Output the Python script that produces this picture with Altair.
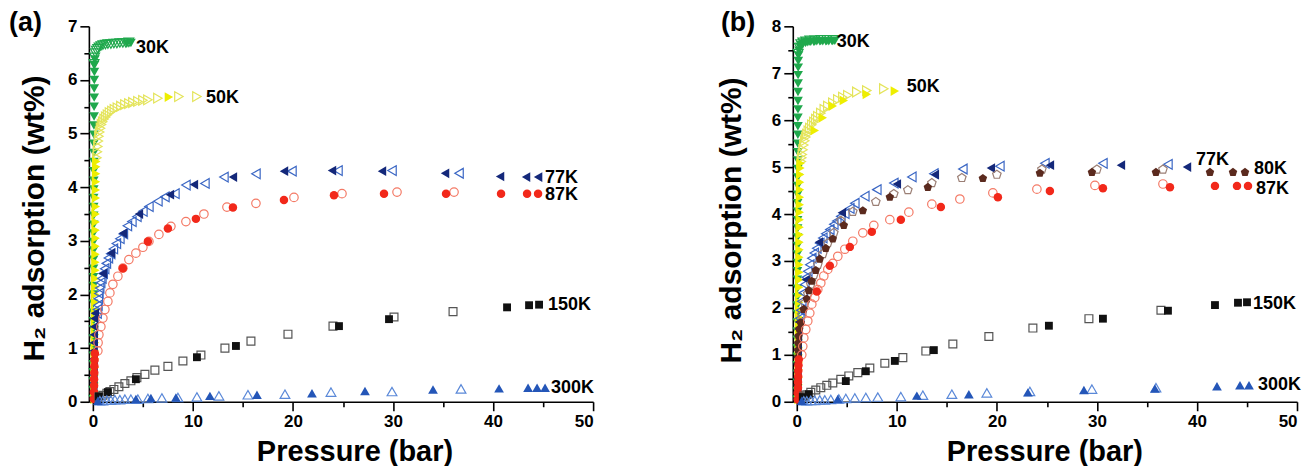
import altair as alt
import pandas as pd

FONT = "Liberation Sans"

# ---------------- panel (a) ----------------
a30_fill_p = [0.02, 0.02, 0.03, 0.03, 0.03, 0.04, 0.04, 0.04, 0.05, 0.05, 0.05, 0.05, 0.06, 0.06, 0.06, 0.06,
              0.07, 0.07, 0.07, 0.07, 0.08, 0.08, 0.08, 0.08, 0.09, 0.09, 0.09, 0.1, 0.1, 0.1, 0.11, 0.11,
              0.12, 0.12, 0.13, 0.13, 0.14, 0.15, 0.17, 0.2, 3.4, 3.8]
a30_fill_w = [0.05, 0.22, 0.38, 0.55, 0.7, 0.86, 1.02, 1.18, 1.35, 1.5, 1.66, 1.83, 2.0, 2.16, 2.32, 2.48,
              2.65, 2.82, 2.98, 3.14, 3.3, 3.47, 3.63, 3.8, 3.96, 4.12, 4.3, 4.47, 4.64, 4.81, 4.98, 5.15,
              5.32, 5.5, 5.67, 5.84, 6.0, 6.15, 6.28, 6.38, 6.68, 6.69]
a30_open_p = [0.12, 0.18, 0.25, 0.35, 0.48, 0.62, 0.8, 1.0, 1.25, 1.5, 1.8, 2.1, 2.4, 2.7, 3.0, 3.3, 3.6]
a30_open_w = [6.3, 6.42, 6.5, 6.55, 6.58, 6.61, 6.63, 6.65, 6.66, 6.67, 6.67, 6.68, 6.68, 6.69, 6.69, 6.69, 6.7]

a50_fill_p = [0.18, 0.18, 0.19, 0.19, 0.2, 0.2, 0.2, 0.21, 0.21, 0.22, 0.22, 0.22, 0.23, 0.23, 0.24, 0.24,
              0.25, 0.25, 0.26, 0.26, 0.27, 0.27, 0.28, 0.28, 0.29, 0.3, 0.3, 0.31, 0.32, 0.33, 0.35, 7.6]
a50_fill_w = [0.05, 0.2, 0.35, 0.5, 0.64, 0.8, 0.95, 1.1, 1.25, 1.4, 1.55, 1.7, 1.85, 2.0, 2.14, 2.3,
              2.45, 2.6, 2.75, 2.9, 3.05, 3.2, 3.35, 3.5, 3.64, 3.8, 3.95, 4.1, 4.25, 4.38, 4.48, 5.68]
a50_open_p = [0.4, 0.45, 0.5, 0.55, 0.6, 0.68, 0.76, 0.86, 0.98, 1.12, 1.28, 1.46, 1.66, 1.9, 2.15, 2.45,
              2.8, 3.2, 3.6, 4.0, 4.5, 5.0, 5.5, 6.5, 8.6, 10.4]
a50_open_w = [4.55, 4.66, 4.76, 4.86, 4.95, 5.03, 5.1, 5.17, 5.22, 5.27, 5.31, 5.35, 5.39, 5.42, 5.45, 5.48,
              5.51, 5.54, 5.56, 5.58, 5.6, 5.62, 5.63, 5.66, 5.69, 5.69]

a77_fill_p = [0.05, 0.05, 0.06, 0.06, 0.07, 0.07, 0.08, 0.09, 0.1, 0.12, 0.15, 0.2,
              1.0, 1.8, 3.0, 4.6, 7.7, 10.1, 14.0, 19.1, 23.9, 28.9, 35.2, 40.7, 43.3, 44.5]
a77_fill_w = [0.05, 0.2, 0.35, 0.5, 0.65, 0.8, 0.95, 1.1, 1.25, 1.4, 1.55, 1.65,
              2.39, 2.77, 3.14, 3.5, 3.86, 4.05, 4.19, 4.3, 4.31, 4.3, 4.26, 4.2, 4.19, 4.19]
a77_open_p = [0.42, 0.46, 0.5, 0.55, 0.6, 0.68, 0.78, 0.9, 1.03, 1.18, 1.35, 1.55, 1.78, 2.05, 2.35, 2.7,
              3.05, 3.45, 3.9, 4.4, 5.0, 5.6, 6.5, 7.2, 8.2, 9.3, 11.2, 13.1, 16.3, 19.9, 24.5, 29.9, 36.6]
a77_open_w = [1.65, 1.72, 1.8, 1.92, 2.02, 2.12, 2.22, 2.3, 2.39, 2.48, 2.58, 2.68, 2.76, 2.85, 2.95, 3.04,
              3.13, 3.28, 3.36, 3.45, 3.55, 3.64, 3.74, 3.82, 3.88, 4.04, 4.07, 4.19, 4.25, 4.3, 4.31, 4.31, 4.26]

a87_fill_p = [0.1, 0.1, 0.12, 0.12, 0.14, 0.15, 0.17, 0.2,
              3.0, 5.5, 7.5, 10.3, 14.0, 19.1, 24.1, 29.1, 35.3, 40.8, 43.4, 44.5]
a87_fill_w = [0.05, 0.18, 0.3, 0.42, 0.54, 0.66, 0.78, 0.9,
              2.49, 2.99, 3.23, 3.41, 3.62, 3.76, 3.85, 3.88, 3.88, 3.88, 3.88, 3.88]
a87_open_p = [0.5, 0.52, 0.6, 0.8, 1.0, 1.2, 1.5, 1.7, 2.0, 2.5, 3.0, 3.6, 4.3, 5.0, 5.6, 6.6,
              7.8, 9.3, 11.1, 13.4, 16.3, 20.1, 24.9, 30.4, 36.1]
a87_open_w = [0.95, 1.1, 1.25, 1.4, 1.56, 1.72, 1.87, 2.03, 2.19, 2.34, 2.49, 2.65, 2.77, 2.88, 2.99, 3.12,
              3.27, 3.36, 3.5, 3.63, 3.7, 3.81, 3.88, 3.91, 3.91]

a150_fill_p = [0.6, 1.5, 4.3, 10.4, 14.3, 24.6, 29.6, 41.4, 43.6, 44.6]
a150_fill_w = [0.1, 0.18, 0.42, 0.83, 1.04, 1.41, 1.54, 1.76, 1.8, 1.81]
a150_open_p = [0.6, 1.0, 1.4, 1.7, 2.1, 2.6, 3.2, 3.8, 4.4, 5.2, 6.2, 7.5, 9.0, 10.8, 13.2, 15.8, 19.5, 24.0, 30.1, 36.0]
a150_open_w = [0.09, 0.12, 0.16, 0.19, 0.23, 0.28, 0.34, 0.39, 0.45, 0.51, 0.59, 0.66, 0.76, 0.87, 1.0, 1.13,
               1.26, 1.41, 1.58, 1.68]

a300_fill_p = [0.5, 4.3, 5.8, 8.3, 11.7, 16.4, 21.9, 27.2, 34.0, 40.6, 43.5, 44.4, 45.2]
a300_fill_w = [0.02, 0.05, 0.07, 0.08, 0.11, 0.13, 0.16, 0.2, 0.23, 0.25, 0.26, 0.26, 0.26]
a300_open_p = [0.7, 1.0, 1.4, 1.8, 2.2, 2.7, 3.2, 3.8, 4.5, 5.5, 6.9, 8.5, 10.4, 12.6, 15.5, 19.2, 23.8, 29.9, 36.8]
a300_open_w = [0.02, 0.02, 0.03, 0.03, 0.04, 0.04, 0.05, 0.05, 0.05, 0.06, 0.07, 0.08, 0.09, 0.11, 0.13, 0.14,
               0.18, 0.19, 0.24]

lab_a_text = ["30K", "50K", "77K", "87K", "150K", "300K"]
lab_a_p = [4.3, 11.3, 45.2, 45.2, 45.5, 45.8]
lab_a_w = [6.6, 5.66, 4.18, 3.85, 1.8, 0.26]

# ---------------- panel (b) ----------------
b30_fill_p = [0.02, 0.02, 0.03, 0.03, 0.03, 0.04, 0.04, 0.04, 0.05, 0.05, 0.05, 0.05, 0.06, 0.06, 0.06, 0.06,
              0.07, 0.07, 0.07, 0.07, 0.08, 0.08, 0.08, 0.08, 0.09, 0.09, 0.09, 0.1, 0.1, 0.1, 0.1, 0.11,
              0.11, 0.11, 0.12, 0.12, 0.12, 0.13, 0.13, 0.14, 0.15, 0.17,
              0.22, 0.32, 0.45, 0.62, 0.85, 1.1, 1.4, 1.7, 2.0, 2.3, 2.6, 2.9, 3.2, 3.5, 3.8]
b30_fill_w = [0.05, 0.23, 0.41, 0.6, 0.78, 0.96, 1.14, 1.32, 1.5, 1.69, 1.87, 2.05, 2.23, 2.41, 2.6, 2.78,
              2.96, 3.14, 3.32, 3.5, 3.69, 3.87, 4.05, 4.23, 4.41, 4.6, 4.78, 4.96, 5.14, 5.32, 5.5, 5.69,
              5.87, 6.05, 6.23, 6.41, 6.6, 6.78, 6.96, 7.12, 7.26, 7.38,
              7.48, 7.56, 7.6, 7.63, 7.65, 7.66, 7.67, 7.67, 7.68, 7.68, 7.68, 7.68, 7.68, 7.69, 7.69]
b30_open_p = [0.15, 0.25, 0.4, 0.6, 0.9, 1.3, 1.8, 2.4, 3.0, 3.6]
b30_open_w = [7.42, 7.55, 7.62, 7.66, 7.68, 7.7, 7.7, 7.71, 7.71, 7.71]

b50_fill_p = [0.18, 0.18, 0.19, 0.19, 0.2, 0.2, 0.2, 0.21, 0.21, 0.22, 0.22, 0.22, 0.23, 0.23, 0.24, 0.24,
              0.25, 0.25, 0.26, 0.26, 0.27, 0.27, 0.28, 0.28, 0.29, 0.3, 0.3, 0.31, 0.32, 0.33, 0.34, 0.36, 0.38,
              1.8, 2.6, 3.6, 4.7, 7.0, 9.8]
b50_fill_w = [0.05, 0.2, 0.36, 0.52, 0.68, 0.84, 1.0, 1.16, 1.32, 1.48, 1.64, 1.8, 1.96, 2.12, 2.28, 2.44,
              2.6, 2.76, 2.92, 3.08, 3.24, 3.4, 3.56, 3.72, 3.88, 4.04, 4.2, 4.36, 4.52, 4.68, 4.84, 4.98, 5.08,
              5.78, 6.05, 6.3, 6.42, 6.55, 6.62]
b50_open_p = [0.45, 0.5, 0.55, 0.62, 0.7, 0.8, 0.9, 1.0, 1.15, 1.3, 1.5, 1.7, 1.9, 2.1, 2.4, 2.75,
              3.1, 3.6, 4.1, 4.6, 5.1, 6.0, 7.0, 8.7]
b50_open_w = [5.12, 5.2, 5.27, 5.37, 5.47, 5.56, 5.64, 5.7, 5.77, 5.83, 5.9, 5.96, 6.02, 6.08, 6.15, 6.23,
              6.3, 6.37, 6.44, 6.49, 6.53, 6.6, 6.63, 6.67]

b77_fill_p = [0.05, 0.05, 0.06, 0.06, 0.07, 0.07, 0.08, 0.09, 0.1, 0.12, 0.15, 0.2,
              0.9, 2.2, 4.5, 10.0, 13.8, 19.4, 25.3, 32.4, 39.0]
b77_fill_w = [0.05, 0.2, 0.35, 0.5, 0.65, 0.8, 0.95, 1.1, 1.25, 1.4, 1.55, 1.7,
              2.6, 3.4, 4.03, 4.64, 4.84, 4.98, 5.04, 5.04, 5.0]
b77_open_p = [0.3, 0.4, 0.5, 0.65, 0.8, 0.95, 1.1, 1.3, 1.5, 1.75, 2.0, 2.3, 2.6, 2.9, 3.3, 3.7,
              4.0, 4.4, 4.8, 5.3, 5.8, 6.8, 8.0, 9.7, 11.5, 13.7, 16.6, 20.3, 24.8, 30.6, 37.1]
b77_open_w = [1.78, 1.95, 2.14, 2.32, 2.5, 2.65, 2.78, 2.92, 3.06, 3.17, 3.27, 3.38, 3.49, 3.58, 3.67, 3.78,
              3.85, 3.95, 4.01, 4.12, 4.23, 4.38, 4.52, 4.66, 4.79, 4.86, 4.96, 5.02, 5.08, 5.08, 5.06]

b80_fill_p = [0.08, 0.08, 0.09, 0.1, 0.1, 0.11, 0.12, 0.13, 0.15, 0.18, 0.25,
              0.4, 0.7, 1.0, 1.2, 1.5, 1.9, 2.3, 2.9, 3.6, 4.7, 6.6, 9.3, 13.1, 18.6, 24.3, 29.5, 35.9,
              41.3, 43.6, 44.8]
b80_fill_w = [0.05, 0.2, 0.35, 0.5, 0.65, 0.8, 0.95, 1.1, 1.25, 1.4, 1.55,
              1.68, 1.97, 2.19, 2.37, 2.57, 2.8, 3.04, 3.27, 3.47, 3.76, 4.07, 4.36, 4.57, 4.76, 4.87, 4.89,
              4.89, 4.89, 4.89, 4.89]
b80_open_p = [0.5, 0.8, 1.1, 1.4, 1.7, 2.1, 2.6, 3.1, 3.7, 4.4, 5.6, 7.9, 9.7, 11.1, 13.5, 16.5, 20.0, 24.5, 30.0, 36.6]
b80_open_w = [1.85, 2.1, 2.3, 2.5, 2.7, 2.92, 3.15, 3.38, 3.6, 3.86, 4.05, 4.26, 4.43, 4.51, 4.66, 4.77,
              4.84, 4.95, 4.95, 4.95]

b87_fill_p = [0.1, 0.1, 0.12, 0.12, 0.14, 0.15, 0.17, 0.2,
              2.0, 3.3, 5.3, 7.5, 10.4, 14.4, 20.1, 25.3, 30.6, 37.3, 41.8, 44.0, 45.1]
b87_fill_w = [0.05, 0.18, 0.3, 0.42, 0.54, 0.66, 0.78, 0.9,
              2.35, 2.9, 3.3, 3.62, 3.88, 4.15, 4.36, 4.49, 4.55, 4.57, 4.6, 4.6, 4.6]
b87_open_p = [0.5, 0.6, 0.7, 0.9, 1.1, 1.3, 1.5, 1.8, 2.1, 2.4, 2.7, 3.1, 3.6, 4.1, 4.8, 5.6,
              6.6, 7.7, 9.3, 11.2, 13.5, 16.3, 19.6, 24.0, 29.8, 36.6]
b87_open_w = [1.0, 1.18, 1.36, 1.54, 1.72, 1.89, 2.08, 2.22, 2.39, 2.53, 2.68, 2.82, 2.95, 3.1, 3.25, 3.42,
              3.6, 3.76, 3.88, 4.04, 4.21, 4.32, 4.45, 4.53, 4.61, 4.64]

b150_fill_p = [0.6, 1.2, 4.9, 6.9, 9.8, 13.7, 25.2, 30.6, 37.1, 41.8, 44.1, 45.0]
b150_fill_w = [0.1, 0.16, 0.44, 0.65, 0.87, 1.1, 1.62, 1.77, 1.94, 2.06, 2.11, 2.12]
b150_open_p = [0.7, 1.0, 1.4, 1.9, 2.4, 3.0, 3.6, 4.4, 5.2, 6.1, 7.3, 8.8, 10.6, 12.9, 15.6, 19.2, 23.6, 29.2, 36.4]
b150_open_w = [0.12, 0.15, 0.2, 0.25, 0.3, 0.35, 0.4, 0.48, 0.55, 0.62, 0.72, 0.82, 0.94, 1.08, 1.23, 1.39,
               1.57, 1.77, 1.95]

b300_fill_p = [0.5, 4.1, 12.0, 17.2, 23.1, 28.7, 35.8, 42.0, 44.3, 45.2]
b300_fill_w = [0.02, 0.06, 0.13, 0.16, 0.2, 0.25, 0.28, 0.33, 0.35, 0.35]
b300_open_p = [0.7, 1.0, 1.4, 1.8, 2.3, 2.8, 3.4, 4.2, 4.9, 5.8, 6.9, 8.1, 10.4, 12.6, 15.5, 19.0, 23.3, 29.5, 35.9]
b300_open_w = [0.02, 0.02, 0.03, 0.03, 0.04, 0.04, 0.05, 0.06, 0.07, 0.08, 0.09, 0.1, 0.11, 0.14, 0.16, 0.19,
               0.22, 0.27, 0.3]

lab_b_text = ["30K", "50K", "77K", "80K", "87K", "150K", "300K"]
lab_b_p = [4.0, 11.0, 39.9, 45.7, 45.9, 45.6, 46.1]
lab_b_w = [7.66, 6.7, 5.16, 4.97, 4.54, 2.08, 0.35]

# axis tick values / labels
x_ticks = [0, 5, 10, 15, 20, 25, 30, 35, 40, 45, 50]
y_ticks_a = [0, 0.5, 1, 1.5, 2, 2.5, 3, 3.5, 4, 4.5, 5, 5.5, 6, 6.5, 7]
y_ticks_b = [0, 0.5, 1, 1.5, 2, 2.5, 3, 3.5, 4, 4.5, 5, 5.5, 6, 6.5, 7, 7.5, 8]
x_title = "Pressure (bar)"
y_title = "H\u2082 adsorption (wt%)"

# ---------------- styles ----------------
PENT = "M0,-1L0.951,-0.309L0.588,0.809L-0.588,0.809L-0.951,-0.309Z"
STYLE = {
    "30K": ("triangle-down", "#1fa84c", "#1fa84c", 95),
    "50K": ("triangle-right", "#eeee00", "#e4e45a", 95),
    "77K": ("triangle-left", "#14287a", "#3a66c4", 95),
    "80K": (PENT, "#5b2a1e", "#9b7f75", 80),
    "87K": ("circle", "#f2281a", "#f47a66", 72),
    "150K": ("square", "#111111", "#555555", 62),
    "300K": ("triangle-up", "#2456b8", "#5a88d8", 95),
}


def xy(ymax, yticks, title_x, ytitle_x, ytitle_y):
    x = alt.X("P:Q", scale=alt.Scale(domain=[-0.4, 50], nice=False, zero=False),
              axis=alt.Axis(values=x_ticks,
                            labelExpr="datum.value % 10 === 0 ? format(datum.value, 'd') : ''",
                            tickSize={"condition": {"test": "datum.value % 10 === 0", "value": 9}, "value": 5},
                            title=x_title, titleFontSize=29, titleX=title_x, titleY=59,
                            titleBaseline="alphabetic", labelOverlap=False))
    y = alt.Y("W:Q", scale=alt.Scale(domain=[0, ymax], nice=False, zero=True),
              axis=alt.Axis(values=yticks,
                            labelExpr="datum.value % 1 === 0 ? format(datum.value, 'd') : ''",
                            tickSize={"condition": {"test": "datum.value % 1 === 0", "value": 9}, "value": 5},
                            title=y_title, titleFontSize=30, titleAngle=270, titleX=ytitle_x, titleY=ytitle_y,
                            titleBaseline="alphabetic", labelOverlap=False))
    return x, y


def panel(series, labels, tag, tag_x, ymax, yticks, title_x, ytitle_x, ytitle_y):
    x, y = xy(ymax, yticks, title_x, ytitle_x, ytitle_y)
    layers = []
    for t, op, ow, fp, fw in series:
        shape, fcol, ocol, size = STYLE[t]
        odf = pd.DataFrame({"P": op, "W": ow})
        fdf = pd.DataFrame({"P": fp, "W": fw})
        layers.append(alt.Chart(odf).mark_point(shape=shape, filled=False, size=size, strokeWidth=1.2,
                                                color=ocol, opacity=1).encode(x=x, y=y))
        layers.append(alt.Chart(fdf).mark_point(shape=shape, filled=True, size=size,
                                                color=fcol, opacity=1).encode(x=x, y=y))
    ldf = pd.DataFrame({"P": labels[1], "W": labels[2], "L": labels[0]})
    layers.append(alt.Chart(ldf).mark_text(align="left", baseline="middle", font=FONT, fontSize=18,
                                           fontWeight="bold", color="black").encode(x=x, y=y, text="L:N"))
    tdf = pd.DataFrame({"tag": [tag]})
    layers.append(alt.Chart(tdf).mark_text(align="left", baseline="alphabetic", font=FONT, fontSize=27,
                                           fontWeight="bold", color="black")
                  .encode(x=alt.value(tag_x), y=alt.value(5), text="tag:N"))
    return alt.layer(*layers).properties(width=505, height=376)


series_a = [
    ("30K", a30_open_p, a30_open_w, a30_fill_p, a30_fill_w),
    ("50K", a50_open_p, a50_open_w, a50_fill_p, a50_fill_w),
    ("77K", a77_open_p, a77_open_w, a77_fill_p, a77_fill_w),
    ("87K", a87_open_p, a87_open_w, a87_fill_p, a87_fill_w),
    ("150K", a150_open_p, a150_open_w, a150_fill_p, a150_fill_w),
    ("300K", a300_open_p, a300_open_w, a300_fill_p, a300_fill_w),
]
series_b = [
    ("30K", b30_open_p, b30_open_w, b30_fill_p, b30_fill_w),
    ("50K", b50_open_p, b50_open_w, b50_fill_p, b50_fill_w),
    ("77K", b77_open_p, b77_open_w, b77_fill_p, b77_fill_w),
    ("80K", b80_open_p, b80_open_w, b80_fill_p, b80_fill_w),
    ("87K", b87_open_p, b87_open_w, b87_fill_p, b87_fill_w),
    ("150K", b150_open_p, b150_open_w, b150_fill_p, b150_fill_w),
    ("300K", b300_open_p, b300_open_w, b300_fill_p, b300_fill_w),
]

pa = panel(series_a, (lab_a_text, lab_a_p, lab_a_w), "(a)", -80, 7, y_ticks_a, 266, -45, 192)
pb = panel(series_b, (lab_b_text, lab_b_p, lab_b_w), "(b)", -72, 8, y_ticks_b, 252, -52, 194)

chart = (
    alt.hconcat(pa, pb, spacing=121)
    .resolve_scale(x="independent", y="independent")
    .properties(padding={"left": 0, "top": 0, "right": 0, "bottom": 0})
    .configure_view(stroke="transparent")
    .configure_axis(domainColor="black", domainWidth=1.6, tickColor="black", tickWidth=1.6,
                    labelFont=FONT, labelFontSize=17, labelFontWeight="bold", labelColor="black",
                    labelPadding=3, titleFont=FONT, titleFontWeight="bold", titleColor="black", grid=False)
)

chart.save("out.html", embed_options={"renderer": "svg", "actions": False})
